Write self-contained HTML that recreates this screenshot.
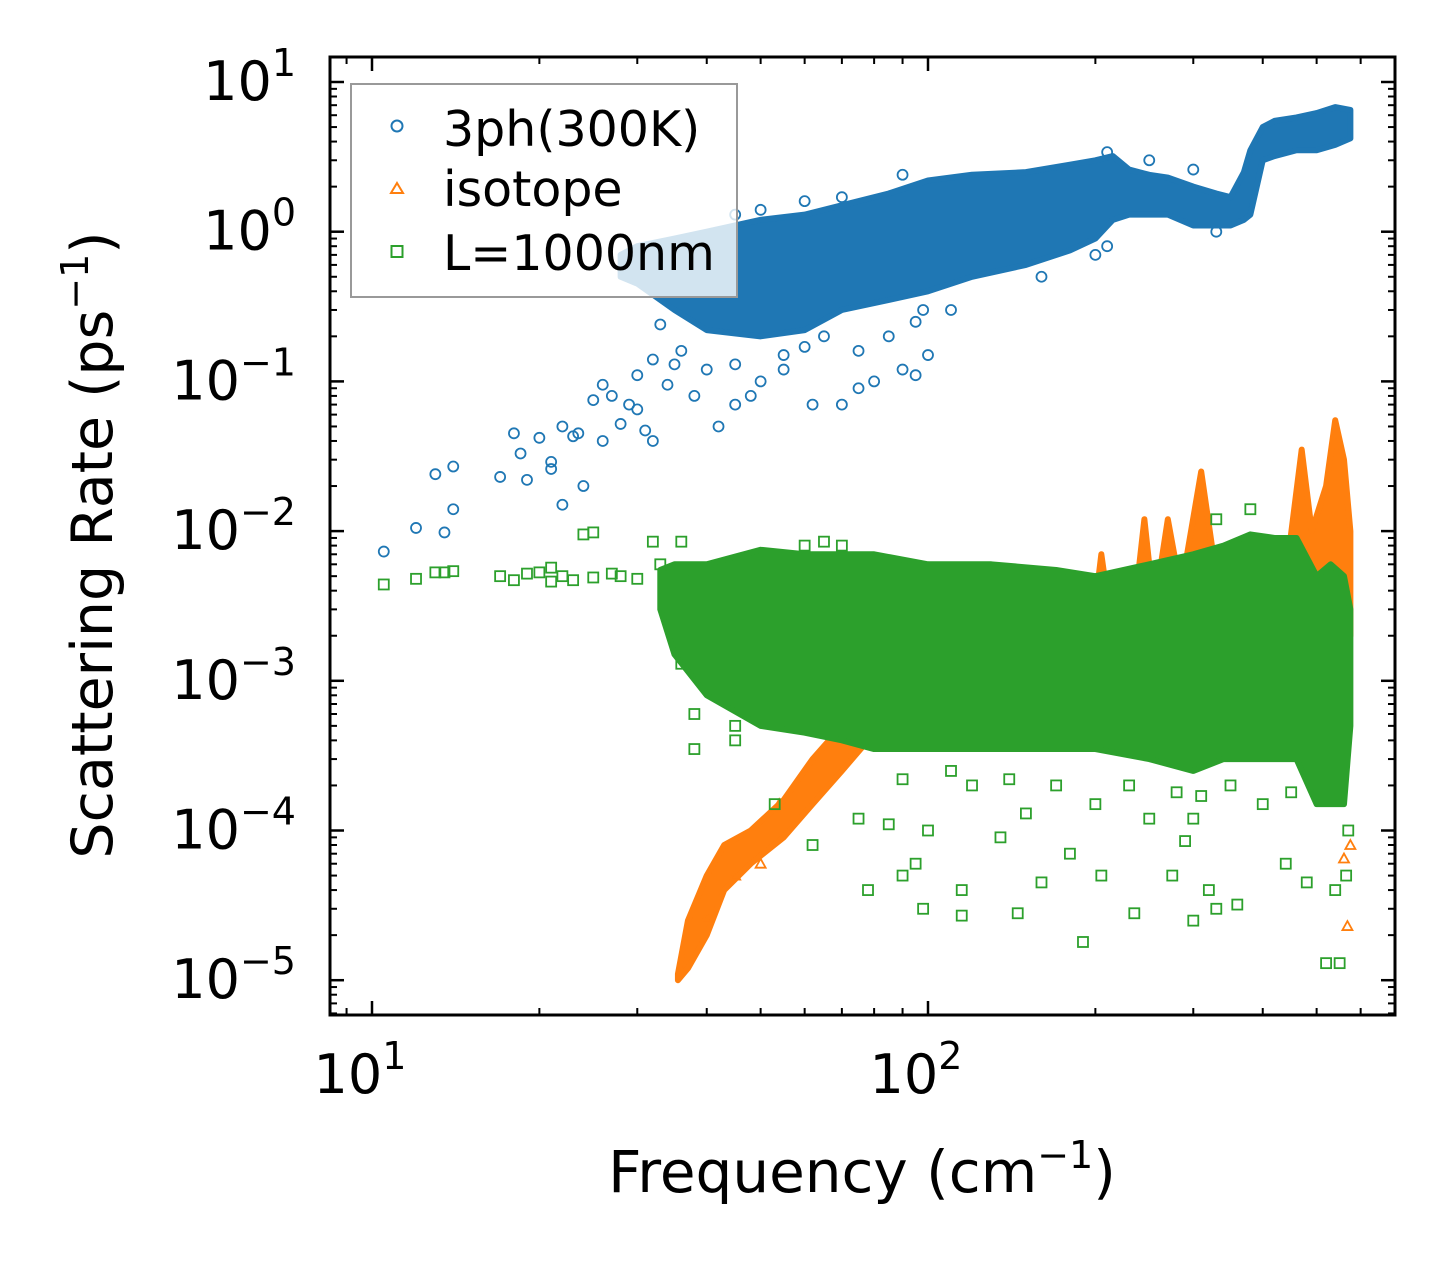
<!DOCTYPE html>
<html><head><meta charset="utf-8"><style>
html,body{margin:0;padding:0;background:#fff;}
svg{display:block;font-family:"DejaVu Sans","Liberation Sans",sans-serif;}
</style></head><body>
<svg id="chart" width="1455" height="1265" viewBox="0 0 1455 1265" xmlns="http://www.w3.org/2000/svg">
<rect width="1455" height="1265" fill="#fff"/>
<defs><clipPath id="clip"><rect x="330" y="57" width="1065" height="958"/></clipPath></defs>
<g id="plot" clip-path="url(#clip)"></g>
<g id="axes"></g>
<g id="legend">
<rect x="351" y="84" width="386" height="213" fill="#fff" fill-opacity="0.8" stroke="#999" stroke-width="2"/>
<circle cx="397" cy="126" r="5.5" fill="none" stroke="#1f77b4" stroke-width="2"/>
<text x="443" y="146" font-size="49">3ph(300K)</text>
<path d="M397,183 L403,193 L391,193 Z" fill="none" stroke="#ff7f0e" stroke-width="2"/>
<text x="443" y="206" font-size="49">isotope</text>
<rect x="391.5" y="246" width="11" height="11" fill="none" stroke="#2ca02c" stroke-width="2"/>
<text x="443" y="270" font-size="49">L=1000nm</text>
</g>
<text x="862" y="1192" font-size="58" text-anchor="middle">Frequency (cm<tspan dy="-24" font-size="38">−1</tspan><tspan dy="24">)</tspan></text>
<text transform="translate(112,545) rotate(-90)" font-size="57" text-anchor="middle">Scattering Rate (ps<tspan dy="-24" font-size="38">−1</tspan><tspan dy="24">)</tspan></text>
</svg>
<script>
// Blue (3ph) dense band: frequency, low, high
const blueBandF = [28,30,35,40,50,60,70,85,100,120,150,180,200,215,230,250,270,300,330,350,370,380,400,420,460,500,540,575];
const blueBandLo = [0.5,0.45,0.3,0.22,0.2,0.22,0.3,0.35,0.4,0.5,0.6,0.75,0.9,1.2,1.3,1.3,1.3,1.1,1.1,1.1,1.2,1.3,3,3.2,3.5,3.5,3.8,4.2];
const blueBandHi = [0.7,0.8,0.9,1.0,1.2,1.3,1.5,1.8,2.2,2.4,2.5,2.8,3.0,3.2,2.6,2.4,2.3,2.0,1.8,1.7,2.5,3.5,5,5.5,5.8,6.2,6.8,6.5];
const blueOutF = [10.5,12,13,13.5,14,14,17,18,18.5,19,20,21,21,22,22,23,23.5,24,25,26,26,27,28,29,30,30,31,32,32,33,34,35,36,38,40,42,45,48,50,55,62,70,75,80,90,95,100,98,45,55,60,65,75,85,95,110,160,200,210,330,45,50,60,70,90,210,250,300];
const blueOutY = [0.0073,0.0105,0.024,0.0098,0.027,0.014,0.023,0.045,0.033,0.022,0.042,0.029,0.026,0.015,0.05,0.043,0.045,0.02,0.075,0.04,0.095,0.08,0.052,0.07,0.065,0.11,0.047,0.04,0.14,0.24,0.095,0.13,0.16,0.08,0.12,0.05,0.07,0.08,0.1,0.12,0.07,0.07,0.09,0.1,0.12,0.11,0.15,0.3,0.13,0.15,0.17,0.2,0.16,0.2,0.25,0.3,0.5,0.7,0.8,1.0,1.3,1.4,1.6,1.7,2.4,3.4,3.0,2.6];
// Orange (isotope)
const orangeBandF = [35.5,37,40,43,48,55,62,70,78,90,150,195,205,215,235,245,255,270,285,310,330,380,440,470,490,520,540,560,575];
const orangeBandLo = [1e-5,1.2e-5,2e-5,4e-5,6e-5,9e-5,1.5e-4,2.5e-4,4e-4,5e-4,5e-4,5e-4,6e-4,6e-4,6e-4,6e-4,7e-4,8e-4,1e-3,1e-3,1e-3,1e-3,1.5e-3,2e-3,2e-3,2e-3,2e-3,2e-3,2e-3];
const orangeBandHi = [1.1e-5,2.5e-5,5e-5,8e-5,1e-4,1.6e-4,3e-4,5e-4,8e-4,1e-3,1e-3,1.5e-3,7e-3,2e-3,3e-3,1.2e-2,3e-3,1.2e-2,4e-3,2.5e-2,5e-3,5e-3,5e-3,3.5e-2,1e-2,2e-2,5.5e-2,3e-2,1e-2];
const orangeOutF = [40,45,50,54,560,568,575,530,555];
const orangeOutY = [2.6e-5,5e-5,6e-5,1.5e-4,6.5e-5,2.3e-5,8e-5,6e-4,5e-3];
// Green (boundary, L=1000nm)
const greenBandF = [33,35,40,50,60,70,80,100,130,170,200,250,300,340,380,420,460,500,530,560,575];
const greenBandLo = [0.003,0.0015,0.0008,0.0005,0.00045,0.0004,0.00035,0.00035,0.00035,0.00035,0.00035,0.0003,0.00025,0.0003,0.0003,0.0003,0.0003,0.00015,0.00015,0.00015,0.0005];
const greenBandHi = [0.0055,0.006,0.006,0.0075,0.007,0.007,0.007,0.006,0.006,0.0055,0.005,0.006,0.007,0.008,0.0095,0.009,0.009,0.005,0.006,0.005,0.003];
const greenOutF = [10.5,12,13,13.5,14,17,18,19,20,21,21,22,23,24,25,25,27,28,30,32,33,36,38,36,38,38,45,45,50,53,62,75,78,85,90,95,98,100,115,115,135,145,160,180,190,205,235,275,290,300,320,330,360,440,480,520,550,540,565,570,300,250,200,150,120,60,65,70,330,380,90,110,140,170,230,280,310,350,400,450];
const greenOutY = [0.0044,0.0048,0.0053,0.0053,0.0054,0.005,0.0047,0.0052,0.0053,0.0057,0.0046,0.005,0.0047,0.0095,0.0098,0.0049,0.0052,0.005,0.0048,0.0085,0.006,0.0085,0.0055,0.0013,0.0006,0.00035,0.0005,0.0004,0.00075,0.00015,0.00008,0.00012,0.00004,0.00011,0.00005,0.00006,0.00003,0.0001,0.00004,0.000027,0.00009,0.000028,0.000045,0.00007,0.000018,0.00005,0.000028,0.00005,0.000085,0.000025,0.00004,0.00003,0.000032,0.00006,0.000045,0.000013,0.000013,0.00004,0.00005,0.0001,0.00012,0.00012,0.00015,0.00013,0.0002,0.008,0.0085,0.008,0.012,0.014,0.00022,0.00025,0.00022,0.0002,0.0002,0.00018,0.00017,0.0002,0.00015,0.00018];
const xTickVals = [10,100];
const yTickVals = [1e1,1e0,1e-1,1e-2,1e-3,1e-4,1e-5];
const yTickExp = ["1","0","−1","−2","−3","−4","−5"];
const xTickExp = ["1","2"];

const NS = "http://www.w3.org/2000/svg";
const X0=330,X1=1395,Y0=57,Y1=1015;
function xs(f){return 372+556*(Math.log10(f)-1);}
function ys(v){return 82-149.7*(Math.log10(v)-1);}
const plot=document.getElementById('plot'), axes=document.getElementById('axes');
function mk(tag,attrs,parent){const e=document.createElementNS(NS,tag);for(const k in attrs)e.setAttribute(k,attrs[k]);parent.appendChild(e);return e;}
function band(F,Lo,Hi,color,name){
  let pts=[];for(let i=0;i<F.length;i++)pts.push(xs(F[i])+','+ys(Hi[i]));
  for(let i=F.length-1;i>=0;i--)pts.push(xs(F[i])+','+ys(Lo[i]));
  const p=mk('polygon',{points:pts.join(' '),fill:color,stroke:color,'stroke-width':6,'stroke-linejoin':'round'},plot);
  
  
}
function circ(F,Y){for(let i=0;i<F.length;i++){const c=mk('circle',{cx:xs(F[i]),cy:ys(Y[i]),r:5,fill:'none',stroke:'#1f77b4','stroke-width':1.8},plot);
  
  }}
function tri(F,Y){for(let i=0;i<F.length;i++){const x=xs(F[i]),y=ys(Y[i]);const c=mk('path',{d:`M${x},${y-5} L${x+5},${y+4} L${x-5},${y+4} Z`,fill:'none',stroke:'#ff7f0e','stroke-width':1.8},plot);
  
  }}
function sq(F,Y){for(let i=0;i<F.length;i++){const x=xs(F[i]),y=ys(Y[i]);const c=mk('rect',{x:x-5,y:y-5,width:10,height:10,fill:'none',stroke:'#2ca02c','stroke-width':1.8},plot);
  
  }}
band(blueBandF,blueBandLo,blueBandHi,'#1f77b4','band-3ph');
circ(blueOutF,blueOutY);
band(orangeBandF,orangeBandLo,orangeBandHi,'#ff7f0e','band-isotope');
tri(orangeOutF,orangeOutY);
band(greenBandF,greenBandLo,greenBandHi,'#2ca02c','band-boundary');
sq(greenOutF,greenOutY);

const fr=mk('rect',{x:X0,y:Y0,width:X1-X0,height:Y1-Y0,fill:'none',stroke:'#000','stroke-width':3},axes);


for(let e=0;e<3;e++){for(let m=1;m<10;m++){const f=m*Math.pow(10,e);const x=xs(f);if(x<X0||x>X1)continue;const L=m===1?14:7;
  mk('line',{x1:x,y1:Y1,x2:x,y2:Y1-L,stroke:'#000','stroke-width':m===1?2.5:2},axes);
  mk('line',{x1:x,y1:Y0,x2:x,y2:Y0+L,stroke:'#000','stroke-width':m===1?2.5:2},axes);}}
for(let e=-6;e<2;e++){for(let m=1;m<10;m++){const v=m*Math.pow(10,e);const y=ys(v);if(y<Y0||y>Y1)continue;const L=m===1?14:7;
  mk('line',{x1:X0,y1:y,x2:X0+L,y2:y,stroke:'#000','stroke-width':m===1?2.5:2},axes);
  mk('line',{x1:X1,y1:y,x2:X1-L,y2:y,stroke:'#000','stroke-width':m===1?2.5:2},axes);}}
xTickVals.forEach((v,i)=>{const t=mk('text',{x:xs(v)-12,y:1093,'font-size':54,'text-anchor':'middle'},axes);
  
  
  t.appendChild(document.createTextNode('10'));const s=mk('tspan',{dy:-24,'font-size':38},t);s.textContent=xTickExp[i];});
yTickVals.forEach((v,i)=>{const t=mk('text',{x:296,y:ys(v)+18,'font-size':54,'text-anchor':'end'},axes);
  
  
  t.appendChild(document.createTextNode('10'));const s=mk('tspan',{dy:-24,'font-size':38},t);s.textContent=yTickExp[i];});
document.getElementById('chart').appendChild(document.getElementById('legend'));
</script>
</body></html>
